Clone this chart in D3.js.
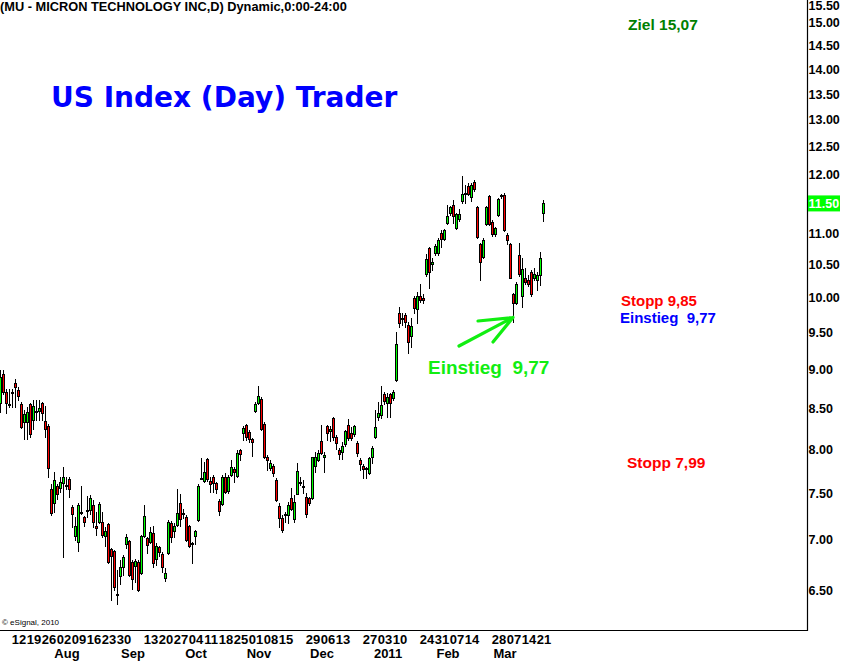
<!DOCTYPE html>
<html>
<head>
<meta charset="utf-8">
<script src="https://cdn.jsdelivr.net/npm/d3@7"></script>
<style>
  body { margin: 0; background: #fff; }
  svg { display: block; font-family: "Liberation Sans", Arial, sans-serif; }
</style>
</head>
<body>
<div class="chart"></div>
<script>
// MU daily candles, one [open, high, low, close] row per trading day
const jul2010 = [
  [8.57, 9.00, 8.46, 8.90], [8.95, 9.00, 8.68, 8.71], [8.71, 8.75, 8.45, 8.57],
  [8.56, 8.75, 8.52, 8.55], [8.70, 8.75, 8.52, 8.71], [8.83, 8.88, 8.52, 8.77],
  [8.74, 8.77, 8.61, 8.66], [8.56, 8.58, 8.26, 8.27], [8.33, 8.48, 8.13, 8.43],
  [8.33, 8.52, 8.13, 8.46], [8.56, 8.57, 8.15, 8.19], [8.36, 8.61, 8.25, 8.53],
  [8.46, 8.61, 8.36, 8.47], [8.47, 8.61, 8.36, 8.51], [8.57, 8.58, 8.36, 8.44],
  [8.35, 8.53, 8.15, 8.25], [8.29, 8.31, 7.69, 7.79], [7.55, 7.61, 7.27, 7.29],
  [7.40, 7.74, 7.30, 7.65], [7.58, 7.61, 7.44, 7.49], [7.56, 7.68, 7.52, 7.63]
];
const aug2010 = [
  [7.62, 7.80, 6.83, 7.68], [7.59, 7.69, 7.55, 7.60], [7.66, 7.69, 7.46, 7.55],
  [7.35, 7.38, 7.14, 7.28], [7.05, 7.25, 7.00, 7.15], [6.98, 7.40, 6.89, 7.38],
  [7.29, 7.58, 7.28, 7.30], [7.25, 7.26, 7.15, 7.19], [7.31, 7.47, 7.25, 7.32],
  [7.32, 7.48, 7.28, 7.45], [7.37, 7.43, 7.14, 7.19], [7.15, 7.30, 7.06, 7.13],
  [7.19, 7.41, 7.18, 7.39], [7.19, 7.30, 7.03, 7.06], [7.05, 7.14, 6.94, 7.10],
  [7.17, 7.18, 6.77, 6.78], [6.91, 6.92, 6.41, 6.84], [6.89, 6.90, 6.51, 6.54],
  [6.46, 6.70, 6.37, 6.47], [6.64, 6.80, 6.56, 6.73], [6.73, 6.85, 6.65, 6.83],
  [6.96, 7.07, 6.92, 7.03]
];
const sep2010 = [
  [6.99, 7.00, 6.64, 6.65], [6.78, 6.80, 6.52, 6.61], [6.74, 6.81, 6.58, 6.79],
  [6.78, 6.80, 6.50, 6.51], [6.67, 7.06, 6.66, 7.05], [7.05, 7.38, 7.04, 7.26],
  [7.02, 7.03, 6.87, 6.95], [6.98, 7.14, 6.97, 7.09], [7.08, 7.15, 6.73, 6.77],
  [6.81, 6.97, 6.75, 6.94], [6.93, 6.94, 6.84, 6.88], [6.86, 6.88, 6.68, 6.73],
  [6.62, 6.72, 6.59, 6.67], [6.87, 7.21, 6.86, 7.19], [7.18, 7.20, 6.98, 7.03],
  [7.10, 7.18, 7.03, 7.15], [7.16, 7.55, 7.15, 7.29], [7.40, 7.50, 7.15, 7.22],
  [7.29, 7.33, 7.24, 7.28], [7.25, 7.27, 6.99, 7.00], [7.15, 7.16, 6.93, 6.94]
];
const oct2010 = [
  [6.96, 6.98, 6.77, 6.97], [7.05, 7.11, 6.96, 7.10], [7.21, 7.61, 7.20, 7.58],
  [7.66, 7.90, 7.66, 7.67], [7.64, 7.86, 7.63, 7.74], [7.89, 7.90, 7.64, 7.66],
  [7.64, 7.69, 7.52, 7.61], [7.68, 7.71, 7.52, 7.62], [7.62, 7.63, 7.51, 7.55],
  [7.42, 7.44, 7.27, 7.31], [7.39, 7.71, 7.37, 7.68], [7.69, 7.73, 7.51, 7.52],
  [7.53, 7.71, 7.51, 7.69], [7.71, 7.88, 7.70, 7.80], [7.78, 7.80, 7.63, 7.74],
  [7.70, 8.00, 7.69, 7.96], [8.00, 8.01, 7.88, 7.95], [8.20, 8.28, 8.12, 8.26],
  [8.30, 8.31, 8.11, 8.15], [8.21, 8.24, 8.09, 8.13], [8.13, 8.14, 7.93, 8.09]
];
const nov2010 = [
  [8.47, 8.58, 8.46, 8.56], [8.57, 8.79, 8.56, 8.66], [8.62, 8.65, 8.24, 8.25],
  [8.31, 8.33, 7.90, 7.92], [7.92, 7.94, 7.76, 7.88], [7.79, 7.88, 7.77, 7.85],
  [7.81, 7.83, 7.70, 7.73], [7.65, 7.67, 7.42, 7.43], [7.36, 7.40, 7.14, 7.23],
  [7.24, 7.27, 7.09, 7.11], [7.28, 7.30, 7.19, 7.27], [7.27, 7.41, 7.18, 7.37],
  [7.45, 7.56, 7.32, 7.33], [7.22, 7.48, 7.19, 7.41], [7.50, 7.85, 7.49, 7.75],
  [7.62, 7.68, 7.59, 7.63], [7.58, 7.65, 7.51, 7.57], [7.46, 7.51, 7.25, 7.28],
  [7.45, 7.46, 7.37, 7.40], [7.45, 7.92, 7.44, 7.91], [7.81, 7.97, 7.74, 7.91]
];
const dec2010 = [
  [7.88, 8.00, 7.87, 7.96], [8.10, 8.30, 7.95, 7.96], [7.91, 7.97, 7.74, 7.94],
  [8.28, 8.30, 8.11, 8.20], [8.22, 8.28, 8.10, 8.25], [8.38, 8.39, 8.11, 8.15],
  [8.15, 8.17, 8.01, 8.08], [8.00, 8.02, 7.89, 7.95], [7.97, 8.09, 7.89, 8.05],
  [8.07, 8.24, 8.05, 8.22], [8.30, 8.37, 8.11, 8.14], [8.20, 8.27, 8.11, 8.14],
  [8.19, 8.30, 8.16, 8.28], [8.08, 8.10, 7.93, 7.96], [7.88, 7.90, 7.77, 7.83],
  [7.81, 7.83, 7.67, 7.78], [7.78, 7.80, 7.67, 7.79], [7.73, 7.92, 7.72, 7.90],
  [7.91, 8.04, 7.85, 8.02], [8.15, 8.48, 8.14, 8.27], [8.40, 8.58, 8.36, 8.45],
  [8.42, 8.79, 8.38, 8.55]
];
const jan2011 = [
  [8.68, 8.71, 8.56, 8.59], [8.57, 8.70, 8.40, 8.65], [8.69, 8.70, 8.40, 8.57],
  [8.64, 8.74, 8.61, 8.71], [8.86, 9.51, 8.85, 9.35], [9.79, 9.87, 9.58, 9.64],
  [9.72, 9.79, 9.62, 9.71], [9.75, 9.79, 9.58, 9.65], [9.61, 9.65, 9.23, 9.37],
  [9.46, 9.72, 9.31, 9.60], [10.00, 10.03, 9.79, 9.86], [9.84, 10.09, 9.64, 10.04],
  [10.04, 10.22, 9.94, 9.97], [10.01, 10.06, 9.93, 9.97], [10.37, 10.67, 10.34, 10.60],
  [10.77, 10.79, 10.16, 10.39], [10.52, 10.61, 10.42, 10.55], [10.69, 10.84, 10.66, 10.80],
  [10.69, 10.93, 10.66, 10.90], [11.01, 11.06, 10.79, 10.91]
];
const feb2011 = [
  [10.91, 11.07, 10.90, 11.06], [11.17, 11.47, 11.15, 11.29], [11.34, 11.46, 11.31, 11.44],
  [11.47, 11.56, 11.17, 11.29], [11.09, 11.34, 11.07, 11.32], [11.24, 11.41, 11.20, 11.32],
  [11.54, 11.97, 11.51, 11.66], [11.67, 11.82, 11.51, 11.68], [11.80, 11.85, 11.65, 11.66],
  [11.61, 11.85, 11.54, 11.82], [11.87, 11.90, 11.71, 11.75], [11.44, 11.46, 10.93, 10.95],
  [10.84, 10.85, 10.27, 10.55], [10.63, 10.93, 10.61, 10.90], [11.16, 11.46, 11.14, 11.44],
  [11.63, 11.65, 11.14, 11.16], [11.19, 11.22, 10.96, 10.99], [10.99, 11.11, 10.96, 11.09],
  [11.31, 11.59, 11.29, 11.58]
];
const mar2011 = [
  [11.64, 11.66, 11.60, 11.65], [11.65, 11.67, 11.04, 11.06], [10.98, 11.01, 10.84, 10.90],
  [10.84, 10.85, 10.30, 10.31], [10.06, 10.08, 9.65, 9.93], [9.93, 10.24, 9.92, 10.22],
  [10.66, 10.85, 10.34, 10.37], [10.04, 10.61, 9.87, 10.44], [10.31, 10.45, 10.21, 10.24],
  [10.27, 10.35, 10.19, 10.22], [10.39, 10.42, 10.04, 10.07], [10.30, 10.45, 10.27, 10.36],
  [10.28, 10.39, 10.12, 10.35], [10.35, 10.71, 10.20, 10.61], [11.34, 11.56, 11.20, 11.50]
];

// trading calendar
const firstDay = '2010-07-01';
const holidays = ['2010-07-05', '2010-09-06', '2010-11-25', '2010-12-24', '2011-01-17', '2011-02-21'];

// axis labels
const priceTicks = [6.5, 7, 7.5, 8, 8.5, 9, 9.5, 10, 10.5, 11, 11.5, 12, 12.5, 13, 13.5, 14, 14.5, 15, 15.5];
const dayTicks = [
  '2010-07-12', '2010-07-19', '2010-07-26', '2010-08-02', '2010-08-09', '2010-08-16', '2010-08-23', '2010-08-30',
  '2010-09-13', '2010-09-20', '2010-09-27', '2010-10-04', '2010-10-11', '2010-10-18', '2010-10-25',
  '2010-11-01', '2010-11-08', '2010-11-15', '2010-11-29', '2010-12-06', '2010-12-13', '2010-12-27',
  '2011-01-03', '2011-01-10', '2011-01-24', '2011-01-31', '2011-02-07', '2011-02-14', '2011-02-28',
  '2011-03-07', '2011-03-14', '2011-03-21'
];
const monthDates = ['2010-08-02', '2010-09-01', '2010-10-01', '2010-11-01', '2010-12-01', '2011-01-03', '2011-02-01', '2011-03-01'];
const monthNames = ['Aug', 'Sep', 'Oct', 'Nov', 'Dec', '2011', 'Feb', 'Mar'];

const titleText = '(MU - MICRON TECHNOLOGY INC,D) Dynamic,0:00-24:00';
const brandText = 'US Index (Day) Trader';

// build the candles with their dates
const rows = [].concat(jul2010, aug2010, sep2010, oct2010, nov2010, dec2010, jan2011, feb2011, mar2011);
const fmt = d3.timeFormat('%Y-%m-%d');
const parse = d3.timeParse('%Y-%m-%d');
const dates = [];
let day = parse(firstDay);
while (dates.length < rows.length) {
  const wd = day.getDay();
  if (wd !== 0 && wd !== 6 && !holidays.includes(fmt(day))) dates.push(day);
  day = d3.timeDay.offset(day, 1);
}
const indexOf = s => dates.findIndex(d => fmt(d) === s);
const candles = rows.map((r, i) => ({ i, date: dates[i], open: r[0], high: r[1], low: r[2], close: r[3] }));

const W = 841, H = 661;
const plotRight = 807, plotBottom = 630;
const font = '"Liberation Sans", Arial, sans-serif';

const svg = d3.select('.chart')
  .append('svg')
    .attr('width', W)
    .attr('height', H);

// scales
const x = d3.scaleLinear()
  .domain([0, candles.length - 1])
  .range([0.5, 0.5 + 3 * (candles.length - 1)]);

const y = d3.scaleLog()
  .domain([6.5, 15.5])
  .range([590.7, 0.8]);

// frame
svg.append('path')
  .attr('d', `M0,${plotBottom + 0.5}H${plotRight + 0.5}V0`)
  .attr('fill', 'none')
  .attr('stroke', '#000')
  .attr('stroke-width', 1.2);

// candles
const px = d => Math.floor(x(d.i));
const g = svg.append('g').attr('shape-rendering', 'crispEdges');

g.selectAll('.wick')
  .data(candles)
  .enter()
  .append('line')
    .attr('class', 'wick')
    .attr('x1', d => px(d) + 0.5)
    .attr('x2', d => px(d) + 0.5)
    .attr('y1', d => Math.round(y(d.high)))
    .attr('y2', d => Math.round(y(d.low)) + 1)
    .attr('stroke', '#000');

g.selectAll('.body')
  .data(candles)
  .enter()
  .append('rect')
    .attr('class', 'body')
    .attr('x', d => px(d) - 0.5)
    .attr('y', d => Math.round(y(Math.max(d.open, d.close))) + 0.5)
    .attr('width', 2)
    .attr('height', d => Math.max(1, Math.round(y(Math.min(d.open, d.close))) - Math.round(y(Math.max(d.open, d.close)))))
    .attr('fill', d => d.close >= d.open ? '#00ff00' : '#ff0000')
    .attr('stroke', '#000');

// price axis on the right
const last = candles[candles.length - 1];
const yAxis = svg.append('g')
  .attr('transform', `translate(${plotRight}, 0)`)
  .call(d3.axisRight(y)
    .tickValues(priceTicks.filter(v => Math.abs(y(v) - y(last.close)) > 8))
    .tickFormat(d3.format('.2f'))
    .tickSize(0)
    .tickPadding(1.5));
yAxis.select('.domain').remove();
yAxis.selectAll('text')
  .attr('font-family', font)
  .attr('font-size', 12.5)
  .attr('font-weight', 'bold')
  .attr('fill', '#000');
// keep the top label inside the picture
yAxis.selectAll('.tick')
  .attr('transform', d => `translate(0, ${Math.max(y(d), 6)})`);

// last price tag
const tag = svg.append('g').attr('transform', `translate(${plotRight + 1}, ${y(last.close)})`);
tag.append('rect')
  .attr('x', 0).attr('y', -8)
  .attr('width', 32).attr('height', 16)
  .attr('fill', '#00ff00');
tag.append('text')
  .attr('x', 0.5).attr('dy', '0.35em')
  .attr('font-size', 12.5)
  .attr('font-weight', 'bold')
  .attr('fill', '#fff')
  .text(d3.format('.2f')(last.close));

// time axis: days and months
const dayAxis = svg.append('g')
  .attr('transform', `translate(0, ${plotBottom})`)
  .call(d3.axisBottom(x)
    .tickValues(dayTicks.map(indexOf))
    .tickFormat(i => d3.timeFormat('%d')(dates[i]))
    .tickSize(0)
    .tickPadding(4.8));
dayAxis.select('.domain').remove();

const monthAxis = svg.append('g')
  .attr('transform', `translate(3, ${plotBottom})`)
  .call(d3.axisBottom(x)
    .tickValues(monthDates.map(indexOf))
    .tickFormat((i, k) => monthNames[k])
    .tickSize(0)
    .tickPadding(18.6));
monthAxis.select('.domain').remove();

[dayAxis, monthAxis].forEach(ax => {
  ax.selectAll('text')
    .attr('font-family', font)
    .attr('font-size', 13)
    .attr('font-weight', 'bold')
    .attr('fill', '#000');
});

// header texts
svg.append('text')
  .attr('x', 0).attr('y', 11)
  .attr('font-size', 12.8)
  .attr('font-weight', 'bold')
  .text(titleText);

svg.append('text')
  .attr('x', 51).attr('y', 106.5)
  .attr('font-family', '"DejaVu Sans", Verdana, sans-serif')
  .attr('font-size', 28)
  .attr('font-weight', 'bold')
  .attr('fill', '#0000ff')
  .text(brandText);

svg.append('text')
  .attr('x', 2).attr('y', 625)
  .attr('font-size', 8)
  .text('\u00a9 eSignal, 2010');

// trade notes
const notes = [
  { text: 'Ziel 15,07', x: 628, y: 30, color: '#008000', size: 15.5 },
  { text: 'Stopp 9,85', x: 621, y: 305.5, color: '#ff0000', size: 15 },
  { text: 'Einstieg\u00a0\u00a09,77', x: 620, y: 322.5, color: '#0000ff', size: 15 },
  { text: 'Stopp 7,99', x: 627, y: 467.5, color: '#ff0000', size: 15.5 },
  { text: 'Einstieg\u00a0\u00a09,77', x: 428, y: 374, color: '#11ee11', size: 19 }
];
svg.selectAll('.note')
  .data(notes)
  .enter()
  .append('text')
    .attr('class', 'note')
    .attr('x', d => d.x)
    .attr('y', d => d.y)
    .attr('font-size', d => d.size)
    .attr('font-weight', 'bold')
    .attr('fill', d => d.color)
    .text(d => d.text);

// arrow to the entry candle
const entry = candles[171];
const tip = [x(entry.i) - 0.5, y(entry.low) - 5];
const arrow = d3.path();
arrow.moveTo(459, 346); arrow.lineTo(tip[0], tip[1]);
arrow.moveTo(478, 321); arrow.lineTo(tip[0], tip[1]); arrow.lineTo(493, 342);
svg.append('path')
  .attr('d', arrow.toString())
  .attr('fill', 'none')
  .attr('stroke', '#11ee11')
  .attr('stroke-width', 3.2)
  .attr('stroke-linecap', 'round')
  .attr('stroke-linejoin', 'round');
</script>
</body>
</html>
